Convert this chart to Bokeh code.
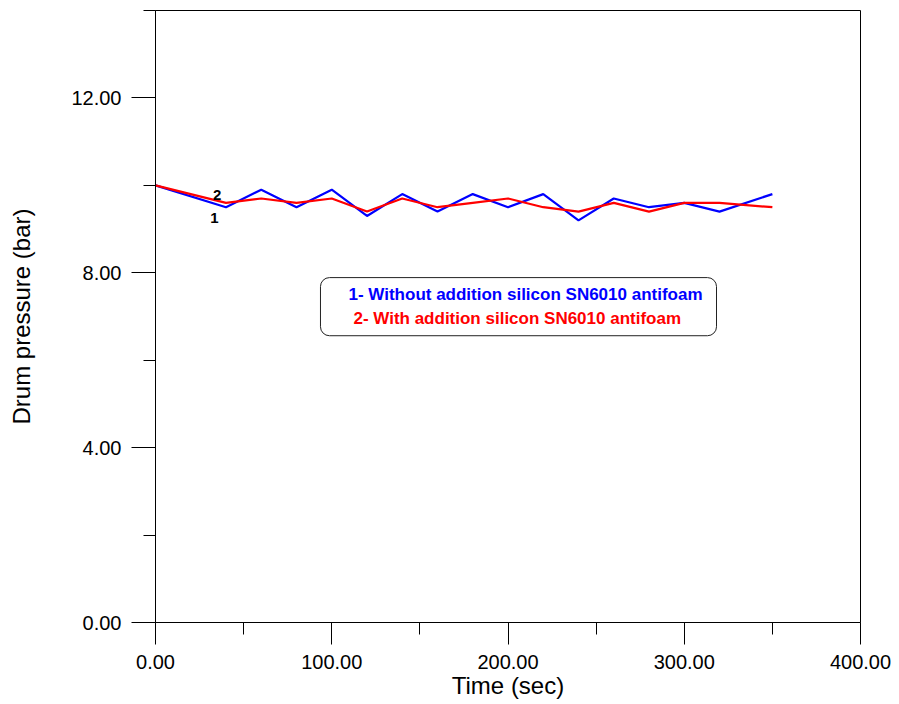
from bokeh.plotting import figure
from bokeh.models import Range1d, FixedTicker, PrintfTickFormatter, BoxAnnotation
from bokeh.core.properties import value
from bokeh.embed import file_html
from bokeh.resources import INLINE

# ---- data ----
time_sec = [0, 40, 60, 80, 100, 120, 140, 160, 180, 200, 220, 240, 260, 280, 300, 320, 350]
pressure_without = [10.0, 9.5, 9.9, 9.5, 9.9, 9.3, 9.8, 9.4, 9.8, 9.5, 9.8, 9.2, 9.7, 9.5, 9.6, 9.4, 9.8]
pressure_with = [10.0, 9.6, 9.7, 9.6, 9.7, 9.4, 9.7, 9.5, 9.6, 9.7, 9.5, 9.4, 9.6, 9.4, 9.6, 9.6, 9.5]
x_major = [0, 100, 200, 300, 400]
x_minor = [50, 150, 250, 350]
y_major = [0, 4, 8, 12]
y_minor = [2, 6, 10, 14]
legend_texts = ["1- Without addition silicon SN6010 antifoam", "2- With addition silicon SN6010 antifoam"]
curve_labels = ["1", "2"]

FONT = "Liberation Sans"

p = figure(width=899, height=704, x_range=Range1d(0, 400), y_range=Range1d(0, 14),
           output_backend="svg", toolbar_location=None,
           min_border_left=155, min_border_right=39, min_border_top=10, min_border_bottom=82)
p.background_fill_color = "white"
p.border_fill_color = "white"
p.outline_line_color = "black"
p.outline_line_width = 1
p.xgrid.visible = False
p.ygrid.visible = False

# axes
p.xaxis.ticker = FixedTicker(ticks=x_major, minor_ticks=x_minor)
p.yaxis.ticker = FixedTicker(ticks=y_major, minor_ticks=y_minor)
p.xaxis.formatter = PrintfTickFormatter(format="%.2f")
p.yaxis.formatter = PrintfTickFormatter(format="%.2f")
for ax in (p.xaxis, p.yaxis):
    ax.axis_line_color = "black"
    ax.major_tick_line_color = "black"
    ax.minor_tick_line_color = "black"
    ax.major_tick_in = 0
    ax.minor_tick_in = 0
    ax.minor_tick_out = 12
    ax.major_label_text_font = FONT
    ax.major_label_text_font_size = "20px"
    ax.major_label_text_color = "black"
    ax.axis_label_text_font = FONT
    ax.axis_label_text_font_style = "normal"
    ax.axis_label_text_font_size = "24px"
    ax.axis_label_text_color = "black"
p.xaxis.major_tick_out = 22
p.yaxis.major_tick_out = 24
p.xaxis.major_label_standoff = 10
p.yaxis.major_label_standoff = 10
p.xaxis.axis_label = "Time (sec)"
p.yaxis.axis_label = "Drum pressure (bar)"
p.xaxis.axis_label_standoff = 0
p.yaxis.axis_label_standoff = 33

# legend box (drawn beneath the curves and texts)
box = BoxAnnotation(left=93.6, right=318.3, bottom=6.56, top=7.89,
                    fill_color="white", fill_alpha=0.0,
                    line_color="#222222", line_alpha=1.0, line_width=1,
                    border_radius=9, level="underlay")
p.add_layout(box)

# curves
p.line(time_sec, pressure_without, line_color="#0000FF", line_width=2.2)
p.line(time_sec, pressure_with, line_color="#FF0000", line_width=2.2)

# curve labels
p.text(x=[33.5, 35], y=[9.25, 9.79], text=curve_labels, text_font=value(FONT),
       text_font_style="bold", text_font_size="15px", text_color="black",
       text_align="center", text_baseline="middle")

# legend texts
p.text(x=[109.5, 112.3], y=[7.50, 6.95], text=legend_texts, text_font=value(FONT),
       text_font_style="bold", text_font_size="17px", text_color=["#0000FF", "#FF0000"],
       text_align="left", text_baseline="middle")

open("out.html", "w").write(file_html(p, INLINE))
